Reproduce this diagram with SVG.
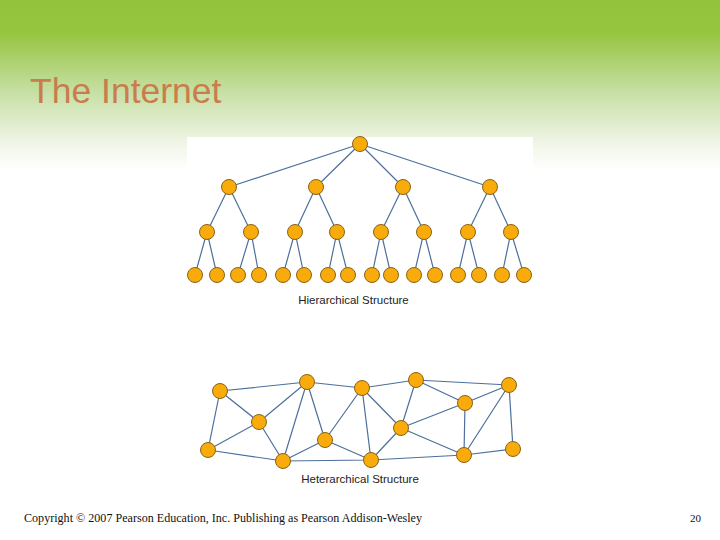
<svg xmlns="http://www.w3.org/2000/svg" width="720" height="540" viewBox="0 0 720 540">
<defs>
<linearGradient id="bg" x1="0" y1="0" x2="0" y2="1">
<stop offset="0" stop-color="#92c23a"/>
<stop offset="0.2" stop-color="#96c541"/>
<stop offset="0.55" stop-color="#c8e0a6"/>
<stop offset="0.85" stop-color="#f1f6e8"/>
<stop offset="1" stop-color="#ffffff"/>
</linearGradient>
</defs>
<style>
.e{stroke:#4d6f9c;stroke-width:1.2;fill:none}
.n{fill:#f8ab0a;stroke:#8a6414;stroke-width:1}
.lbl{font-family:"Liberation Sans",Arial,sans-serif;font-size:11.5px;fill:#222;text-anchor:middle}
</style>
<rect width="720" height="540" fill="#ffffff"/>
<rect width="720" height="170" fill="url(#bg)"/>
<rect x="187" y="137" width="346" height="180" fill="#ffffff"/>
<text x="30" y="103" font-family="Liberation Sans,Arial,sans-serif" font-size="35.5" fill="#c97c4c">The Internet</text>

<g id="connectors">
<!-- hierarchical -->
<path class="e" d="M360,144L229,187M360,144L316,187M360,144L403,187M360,144L490,187
M229,187L207,232M229,187L251,232M316,187L295,232M316,187L337,232M403,187L381,232M403,187L424,232M490,187L468,232M490,187L511,232
M207,232L195,275M207,232L217,275M251,232L238,275M251,232L259,275M295,232L283,275M295,232L304,275M337,232L328,275M337,232L348,275
M381,232L372,275M381,232L391,275M424,232L414,275M424,232L435,275M468,232L458,275M468,232L479,275M511,232L502,275M511,232L524,275"/>
<!-- heterarchical -->
<path class="e" d="M220,391L307,382M220,391L259,422M220,391L208,450
M307,382L362,388M307,382L259,422M307,382L283,461M307,382L325,440
M362,388L416,380M362,388L325,440M362,388L371,460M362,388L401,428
M416,380L509,385M416,380L401,428M416,380L465,403
M465,403L509,385M509,385L464,455M509,385L513,449M465,403L464,455M465,403L401,428
M401,428L464,455M401,428L371,460
M259,422L208,450M259,422L283,461M208,450L283,461
M283,461L325,440M325,440L371,460M283,461L371,460M371,460L464,455M464,455L513,449"/>
</g>

<g id="hierarchy">
<g id="h-root"><circle class="n" cx="360" cy="144" r="7.5"/></g>
<g id="h-l2">
<circle class="n" cx="229" cy="187" r="7.5"/><circle class="n" cx="316" cy="187" r="7.5"/><circle class="n" cx="403" cy="187" r="7.5"/><circle class="n" cx="490" cy="187" r="7.5"/>
</g>
<g id="h-l3">
<circle class="n" cx="207" cy="232" r="7.5"/><circle class="n" cx="251" cy="232" r="7.5"/><circle class="n" cx="295" cy="232" r="7.5"/><circle class="n" cx="337" cy="232" r="7.5"/>
<circle class="n" cx="381" cy="232" r="7.5"/><circle class="n" cx="424" cy="232" r="7.5"/><circle class="n" cx="468" cy="232" r="7.5"/><circle class="n" cx="511" cy="232" r="7.5"/>
</g>
<g id="h-l4">
<circle class="n" cx="195" cy="275" r="7.5"/><circle class="n" cx="217" cy="275" r="7.5"/><circle class="n" cx="238" cy="275" r="7.5"/><circle class="n" cx="259" cy="275" r="7.5"/>
<circle class="n" cx="283" cy="275" r="7.5"/><circle class="n" cx="304" cy="275" r="7.5"/><circle class="n" cx="328" cy="275" r="7.5"/><circle class="n" cx="348" cy="275" r="7.5"/>
<circle class="n" cx="372" cy="275" r="7.5"/><circle class="n" cx="391" cy="275" r="7.5"/><circle class="n" cx="414" cy="275" r="7.5"/><circle class="n" cx="435" cy="275" r="7.5"/>
<circle class="n" cx="458" cy="275" r="7.5"/><circle class="n" cx="479" cy="275" r="7.5"/><circle class="n" cx="502" cy="275" r="7.5"/><circle class="n" cx="524" cy="275" r="7.5"/>
</g>
<text class="lbl" x="353.5" y="304">Hierarchical Structure</text>
</g>

<g id="heterarchy">
<g id="n-a"><circle class="n" cx="220" cy="391" r="7.5"/></g>
<g id="n-b"><circle class="n" cx="307" cy="382" r="7.5"/></g>
<g id="n-c"><circle class="n" cx="362" cy="388" r="7.5"/></g>
<g id="n-d"><circle class="n" cx="416" cy="380" r="7.5"/></g>
<g id="n-e"><circle class="n" cx="509" cy="385" r="7.5"/></g>
<g id="n-f"><circle class="n" cx="465" cy="403" r="7.5"/></g>
<g id="n-g"><circle class="n" cx="259" cy="422" r="7.5"/></g>
<g id="n-h"><circle class="n" cx="325" cy="440" r="7.5"/></g>
<g id="n-i"><circle class="n" cx="401" cy="428" r="7.5"/></g>
<g id="n-j"><circle class="n" cx="208" cy="450" r="7.5"/></g>
<g id="n-k"><circle class="n" cx="283" cy="461" r="7.5"/></g>
<g id="n-l"><circle class="n" cx="371" cy="460" r="7.5"/></g>
<g id="n-m"><circle class="n" cx="464" cy="455" r="7.5"/></g>
<g id="n-n"><circle class="n" cx="513" cy="449" r="7.5"/></g>
<text class="lbl" x="360" y="483">Heterarchical Structure</text>
</g>

<text x="24" y="522" font-family="Liberation Serif,'Times New Roman',serif" font-size="12" fill="#111" textLength="398" lengthAdjust="spacingAndGlyphs">Copyright © 2007 Pearson Education, Inc. Publishing as Pearson Addison-Wesley</text>
<text x="701" y="522" font-family="Liberation Serif,'Times New Roman',serif" font-size="11" fill="#111" text-anchor="end">20</text>
</svg>
